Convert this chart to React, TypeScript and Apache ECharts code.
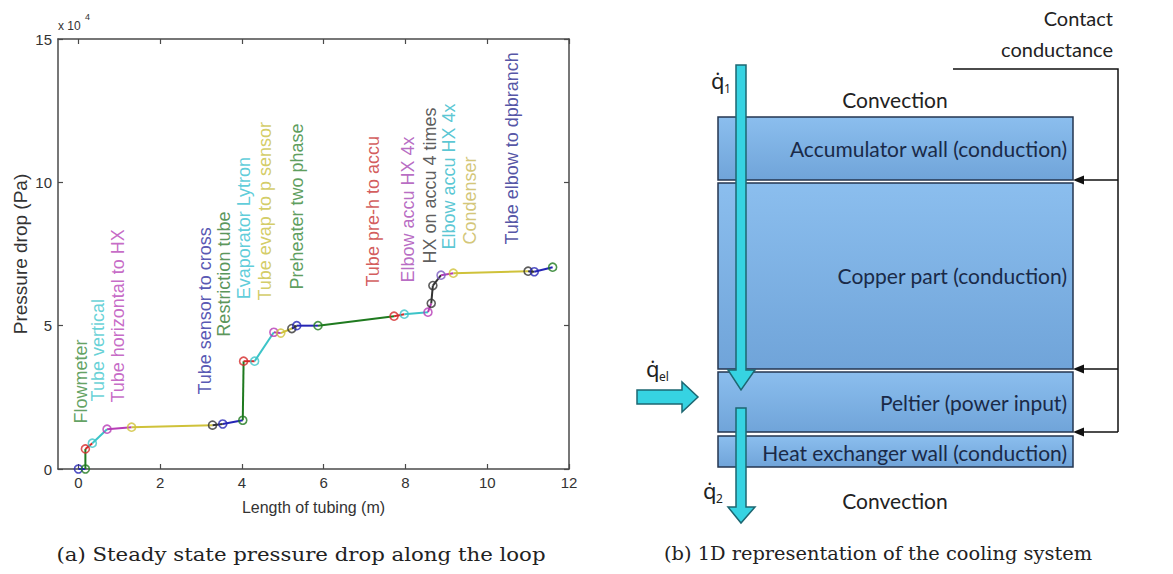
import React, { useEffect, useRef } from "react";
import * as echarts from "echarts";

// ---------- data (left chart) ----------
const lengths = [0, 0.17, 0.17, 0.34, 0.7, 1.3, 3.28, 3.53, 4.02, 4.04, 4.31, 4.78, 4.95, 5.22, 5.34, 5.86, 7.72, 7.97, 8.55, 8.63, 8.67, 8.87, 9.17, 11.0, 11.15, 11.6];
const drops = [0, 0, 7000, 9000, 13900, 14600, 15300, 15700, 17000, 37600, 37600, 47700, 47400, 49000, 50000, 50000, 53300, 54000, 54700, 57800, 64000, 67600, 68300, 69000, 68800, 70400];

const B = "#2525B5", G = "#1F7A1F", R = "#D42B2B", C = "#3CC4C8", M = "#B63CB6", Y = "#CFC23A", K = "#333333", P = "#7A5BC0";
const segmentColors = [B, G, R, C, M, Y, K, B, G, R, C, M, Y, K, B, G, R, C, M, K, K, M, Y, K, B];
const markerColors = [B, G, R, C, M, Y, K, B, G, R, C, M, Y, K, B, G, R, C, M, K, K, P, Y, K, B, G];

const componentNames = [
  "Flowmeter", "Tube vertical", "Tube horizontal to HX", "Tube sensor to cross", "Restriction tube",
  "Evaporator Lytron", "Tube evap to p sensor", "Preheater two phase", "Tube pre-h to accu",
  "Elbow accu HX 4x", "HX on accu 4 times", "Elbow accu HX 4x", "Condenser", "Tube elbow to dpbranch",
];
const nameX = [0.07, 0.49, 0.98, 3.11, 3.57, 4.06, 4.58, 5.36, 7.22, 8.08, 8.62, 9.08, 9.6, 10.62];
const nameY = [15700, 23400, 23000, 25800, 46000, 59000, 58600, 62400, 63500, 64900, 71500, 76400, 78100, 78100];
const nameColors = ["#3A8A3A", "#3FC6CC", "#B845B8", "#2C2CA0", "#2F7A2F", "#35C0D0", "#C9C040", "#338533", "#C83232", "#A646B4", "#333333", "#2FB8C8", "#C8B856", "#28288E"];

const xTicks = [0, 2, 4, 6, 8, 10, 12];
const yTicks = [0, 50000, 100000, 150000];

// ---------- diagram texts ----------
const layerNames = ["Accumulator wall (conduction)", "Copper part (conduction)", "Peltier (power input)", "Heat exchanger wall (conduction)"];
const captionA = "(a) Steady state pressure drop along the loop";
const captionB = "(b) 1D representation of the cooling system";

const AX = "#4a4a4a";
const SANS = "Liberation Sans, Arial, sans-serif";
const CAL = "Lato, Open Sans, sans-serif";
const SERIF = "DejaVu Serif, serif";

function buildOption(): any {
  const series: any[] = [];
  for (let i = 0; i < lengths.length - 1; i++) {
    series.push({
      type: "line",
      data: [[lengths[i], drops[i]], [lengths[i + 1], drops[i + 1]]],
      symbol: "none",
      lineStyle: { color: segmentColors[i], width: 2 },
      silent: true,
      z: 2,
    });
  }
  series.push({
    type: "scatter",
    symbol: "circle",
    symbolSize: 8,
    z: 3,
    silent: true,
    data: lengths.map((x, i) => ({
      value: [x, drops[i]],
      itemStyle: { color: "rgba(0,0,0,0)", borderColor: markerColors[i], borderWidth: 1.6 },
    })),
  });
  series.push({
    type: "scatter",
    symbol: "circle",
    symbolSize: 1,
    silent: true,
    itemStyle: { color: "rgba(0,0,0,0)" },
    label: {
      show: true,
      formatter: "{b}",
      position: [0, 0],
      rotate: 90,
      align: "left",
      verticalAlign: "middle",
      fontSize: 18,
      fontFamily: SANS,
    },
    data: componentNames.map((n, i) => ({
      name: n,
      value: [nameX[i], nameY[i]],
      label: { color: nameColors[i] },
    })),
  });

  const axisLine = { show: true, onZero: false, lineStyle: { color: AX, width: 1.5 } };
  const tickStyle = { color: AX, width: 1.2 };
  const labelStyle = { color: "#333", fontSize: 15, fontFamily: SANS };

  // diagram graphics
  const g: any[] = [];
  const blockFill = new echarts.graphic.LinearGradient(0, 0, 0, 1, [
    { offset: 0, color: "#8BBEEE" },
    { offset: 1, color: "#70A4D9" },
  ]);
  const blocks = [
    [718, 117, 355, 63],
    [718, 183, 355, 186],
    [718, 372, 355, 60],
    [718, 436, 355, 31],
  ];
  blocks.forEach((b) => {
    g.push({ type: "rect", shape: { x: b[0], y: b[1], width: b[2], height: b[3] }, style: { fill: blockFill, stroke: "#243650", lineWidth: 1.5 } });
  });
  const layerY = [148, 275, 402, 452];
  layerNames.forEach((t, i) => {
    g.push({ type: "text", x: 1067, y: layerY[i], style: { text: t, fill: "#1A2A48", fontSize: 21, fontFamily: CAL, textAlign: "right", textVerticalAlign: "middle", align: "right", verticalAlign: "middle" } });
  });
  const plainText = (t: string, x: number, y: number, align: string, size = 21) => ({
    type: "text", x, y,
    style: { text: t, fill: "#222", fontSize: size, fontFamily: CAL, textAlign: align, textVerticalAlign: "middle", align, verticalAlign: "middle" },
  });
  g.push(plainText("Convection", 895, 99, "center"));
  g.push(plainText("Convection", 895, 500, "center"));
  g.push(plainText("Contact", 1113, 18, "right", 20));
  g.push(plainText("conductance", 1113, 49, "right", 20));

  // contact conductance lines
  g.push({ type: "polyline", shape: { points: [[953, 69], [1118, 69], [1118, 432]] }, style: { stroke: "#111", lineWidth: 1.5, fill: null } });
  [180, 369, 432].forEach((yy) => {
    g.push({ type: "line", shape: { x1: 1118, y1: yy, x2: 1080, y2: yy }, style: { stroke: "#111", lineWidth: 1.5 } });
    g.push({ type: "polygon", shape: { points: [[1073, yy], [1084, yy - 4.5], [1084, yy + 4.5]] }, style: { fill: "#111" } });
  });

  // cyan arrows
  const arrowStyle = { fill: "#36D3E2", stroke: "#1D6772", lineWidth: 1.5 };
  g.push({ type: "polygon", shape: { points: [[736, 65], [746, 65], [746, 370], [755, 370], [741, 390], [728, 370], [736, 370]] }, style: arrowStyle });
  g.push({ type: "polygon", shape: { points: [[736, 408], [746, 408], [746, 507], [755, 507], [741, 523], [728, 507], [736, 507]] }, style: arrowStyle });
  g.push({ type: "polygon", shape: { points: [[637, 390], [682, 390], [682, 382], [698, 397], [682, 412], [682, 404], [637, 404]] }, style: arrowStyle });

  // q-dot labels
  const qText = (main: string, sub: string, x: number, y: number) => {
    g.push({ type: "text", x, y, style: { text: main, fill: "#222", fontSize: 22, fontFamily: "Noto Sans, DejaVu Sans, sans-serif", textAlign: "left", textVerticalAlign: "middle", align: "left", verticalAlign: "middle" } });
    g.push({ type: "text", x: x + 13, y: y + 8, style: { text: sub, fill: "#222", fontSize: 12, fontFamily: "Noto Sans, DejaVu Sans, sans-serif", textAlign: "left", textVerticalAlign: "middle", align: "left", verticalAlign: "middle" } });
  };
  qText("q\u0307", "1", 711, 80);
  qText("q\u0307", "el", 646, 368);
  qText("q\u0307", "2", 703, 490);

  // x 10^4
  g.push({ type: "text", x: 58, y: 26, style: { text: "x 10", fill: "#333", fontSize: 12, fontFamily: SANS, textAlign: "left", textVerticalAlign: "middle", align: "left", verticalAlign: "middle" } });
  g.push({ type: "text", x: 85, y: 17, style: { text: "4", fill: "#333", fontSize: 9, fontFamily: SANS, textAlign: "left", textVerticalAlign: "middle", align: "left", verticalAlign: "middle" } });

  // captions
  g.push({ type: "text", x: 301, y: 554, scaleX: 1.12, style: { text: captionA, fill: "#222", fontSize: 19, fontFamily: SERIF, textAlign: "center", textVerticalAlign: "middle", align: "center", verticalAlign: "middle" } });
  g.push({ type: "text", x: 878, y: 554, scaleX: 1.02, style: { text: captionB, fill: "#222", fontSize: 19, fontFamily: SERIF, textAlign: "center", textVerticalAlign: "middle", align: "center", verticalAlign: "middle" } });

  return {
    animation: false,
    backgroundColor: "#ffffff",
    grid: { left: 58, top: 39, width: 511, height: 430, containLabel: false },
    xAxis: [
      {
        type: "value", min: -0.5, max: 12, position: "bottom",
        name: "Length of tubing (m)", nameLocation: "middle", nameGap: 30,
        nameTextStyle: { color: "#333", fontSize: 16, fontFamily: SANS },
        axisLine, axisTick: { show: true, inside: true, length: 5, customValues: xTicks, lineStyle: tickStyle },
        axisLabel: { ...labelStyle, customValues: xTicks, margin: 6 },
        splitLine: { show: false },
      },
      {
        type: "value", min: -0.5, max: 12, position: "top",
        axisLine, axisTick: { show: true, inside: true, length: 5, customValues: xTicks, lineStyle: tickStyle },
        axisLabel: { show: false }, splitLine: { show: false },
      },
    ],
    yAxis: [
      {
        type: "value", min: 0, max: 150000, interval: 50000, position: "left",
        name: "Pressure drop (Pa)", nameLocation: "middle", nameGap: 28,
        nameTextStyle: { color: "#333", fontSize: 19, fontFamily: SANS },
        axisLine, axisTick: { show: true, inside: true, length: 5, customValues: yTicks, lineStyle: tickStyle },
        axisLabel: { ...labelStyle, margin: 6, formatter: (v: number) => String(v / 10000) },
        splitLine: { show: false },
      },
      {
        type: "value", min: 0, max: 150000, interval: 50000, position: "right",
        axisLine, axisTick: { show: true, inside: true, length: 5, customValues: yTicks, lineStyle: tickStyle },
        axisLabel: { show: false }, splitLine: { show: false },
      },
    ],
    series,
    graphic: { elements: g },
  };
}

export default function App() {
  const ref = useRef<HTMLDivElement>(null);
  useEffect(() => {
    if (!ref.current) return;
    const chart = echarts.init(ref.current, undefined, { renderer: "svg" });
    chart.setOption(buildOption());
    return () => chart.dispose();
  }, []);
  return <div ref={ref} style={{ position: "fixed", left: 0, top: 0, width: 1173, height: 574, background: "#fff" }} />;
}
